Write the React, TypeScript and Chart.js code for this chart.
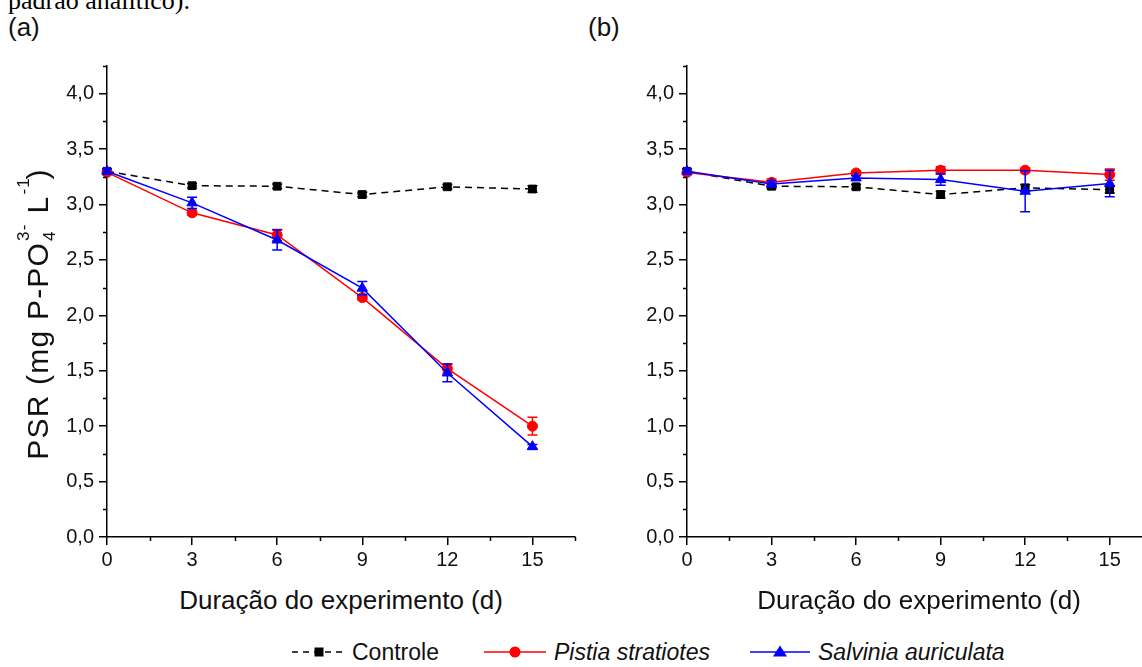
import React, { useEffect, useRef } from 'react';
import { Chart, registerables } from 'chart.js';

Chart.register(...registerables);

// ---- data ----
const days = [0, 3, 6, 9, 12, 15];

const aControle = [3.30, 3.17, 3.165, 3.09, 3.16, 3.14];
const aControleErr = [0.02, 0.02, 0.02, 0.02, 0.02, 0.03];
const aPistia = [3.29, 2.925, 2.725, 2.16, 1.52, 1.00];
const aPistiaErr = [0.02, 0.02, 0.05, 0.02, 0.04, 0.08];
const aSalvinia = [3.30, 3.015, 2.68, 2.245, 1.48, 0.815];
const aSalviniaErr = [0.02, 0.05, 0.09, 0.06, 0.08, 0.02];

const bControle = [3.30, 3.165, 3.16, 3.09, 3.15, 3.135];
const bControleErr = [0.02, 0.02, 0.02, 0.03, 0.03, 0.03];
const bPistia = [3.29, 3.20, 3.285, 3.31, 3.31, 3.27];
const bPistiaErr = [0.02, 0.03, 0.02, 0.03, 0.02, 0.05];
const bSalvinia = [3.30, 3.185, 3.24, 3.225, 3.12, 3.19];
const bSalviniaErr = [0.02, 0.03, 0.02, 0.05, 0.185, 0.12];

const seriesNames = ['Controle', 'Pistia stratiotes', 'Salvinia auriculata'];
const seriesColors = ['#000000', '#ff0000', '#0000ff'];

const xMin = 0;
const xMax = 16.5;
const xMajorStep = 3;
const yMin = 0;
const yMax = 4.25;
const yMajorStep = 0.5;

const FONT = '"Liberation Sans", Arial, Helvetica, sans-serif';

const errorBarPlugin = {
  id: 'errorBars',
  beforeDatasetDraw(chart: any, args: any) {
    const ds = chart.data.datasets[args.index];
    const errs = ds.errors as number[] | undefined;
    if (!errs) return;
    const ys = chart.scales.y;
    const ctx = chart.ctx;
    ctx.save();
    ctx.strokeStyle = ds.borderColor;
    ctx.lineWidth = 1.5;
    ctx.setLineDash([]);
    args.meta.data.forEach((pt: any, i: number) => {
      const v = ds.data[i].y;
      const e = errs[i];
      const x = pt.x;
      const yT = ys.getPixelForValue(v + e);
      const yB = ys.getPixelForValue(v - e);
      ctx.beginPath();
      ctx.moveTo(x, yT);
      ctx.lineTo(x, yB);
      ctx.moveTo(x - 5, yT);
      ctx.lineTo(x + 5, yT);
      ctx.moveTo(x - 5, yB);
      ctx.lineTo(x + 5, yB);
      ctx.stroke();
    });
    ctx.restore();
  },
};

const minorTickPlugin = {
  id: 'minorTicks',
  afterDraw(chart: any) {
    const xs = chart.scales.x;
    const ys = chart.scales.y;
    const ctx = chart.ctx;
    const area = chart.chartArea;
    ctx.save();
    ctx.strokeStyle = '#000';
    ctx.lineWidth = 1.5;
    ctx.beginPath();
    for (let v = xMin + xMajorStep / 2; v <= xMax + 1e-9; v += xMajorStep) {
      const px = Math.round(xs.getPixelForValue(v)) + 0.5;
      ctx.moveTo(px, area.bottom);
      ctx.lineTo(px, area.bottom + 4);
    }
    for (let v = yMin + yMajorStep / 2; v <= yMax + 1e-9; v += yMajorStep) {
      const py = Math.round(ys.getPixelForValue(v)) + 0.5;
      ctx.moveTo(area.left - 4, py);
      ctx.lineTo(area.left, py);
    }
    ctx.stroke();
    ctx.restore();
  },
};

type PanelProps = {
  left: number;
  width: number;
  height: number;
  padRight: number;
  yAxisWidth: number;
  controle: number[];
  controleErr: number[];
  pistia: number[];
  pistiaErr: number[];
  salvinia: number[];
  salviniaErr: number[];
};

function Panel(p: PanelProps) {
  const ref = useRef<HTMLCanvasElement | null>(null);
  useEffect(() => {
    if (!ref.current) return;
    const mk = (vals: number[]) => days.map((d, i) => ({ x: d, y: vals[i] }));
    const chart = new Chart(ref.current, {
      type: 'line',
      data: {
        datasets: [
          {
            label: seriesNames[2],
            data: mk(p.salvinia),
            errors: p.salviniaErr,
            borderColor: seriesColors[2],
            backgroundColor: seriesColors[2],
            borderWidth: 1.5,
            pointStyle: 'triangle',
            pointRadius: 6,
            pointBorderWidth: 1,
            clip: false,
            order: 0,
          } as any,
          {
            label: seriesNames[1],
            data: mk(p.pistia),
            errors: p.pistiaErr,
            borderColor: seriesColors[1],
            backgroundColor: seriesColors[1],
            borderWidth: 1.5,
            pointStyle: 'circle',
            pointRadius: 5,
            pointBorderWidth: 1,
            clip: false,
            order: 1,
          } as any,
          {
            label: seriesNames[0],
            data: mk(p.controle),
            errors: p.controleErr,
            borderColor: seriesColors[0],
            backgroundColor: seriesColors[0],
            borderWidth: 1.5,
            borderDash: [7, 5],
            pointStyle: 'rect',
            pointRadius: 5.5,
            pointBorderWidth: 1,
            clip: false,
            order: 2,
          } as any,
        ],
      },
      options: {
        responsive: false,
        animation: false,
        events: [],
        layout: { padding: { top: 66, right: p.padRight, bottom: 0, left: 0 } },
        plugins: { legend: { display: false }, tooltip: { enabled: false }, title: { display: false } },
        elements: { line: { tension: 0 } },
        scales: {
          x: {
            type: 'linear',
            min: xMin,
            max: xMax,
            afterFit: (s: any) => { s.height = p.height - 537; },
            border: { display: true, color: '#000', width: 1.5 },
            grid: { drawOnChartArea: false, drawTicks: true, tickLength: 8, color: '#000', lineWidth: 1.5 },
            ticks: {
              stepSize: xMajorStep,
              includeBounds: false,
              autoSkip: false,
              maxRotation: 0,
              padding: 3,
              color: '#111',
              font: { family: FONT, size: 20 },
              callback: (v: any) => String(v),
            },
          },
          y: {
            type: 'linear',
            min: yMin,
            max: yMax,
            afterFit: (s: any) => { s.width = p.yAxisWidth; },
            border: { display: true, color: '#000', width: 1.5 },
            grid: { drawOnChartArea: false, drawTicks: true, tickLength: 8, color: '#000', lineWidth: 1.5 },
            ticks: {
              stepSize: yMajorStep,
              includeBounds: false,
              autoSkip: false,
              padding: 5,
              color: '#111',
              font: { family: FONT, size: 20 },
              callback: (v: any) => Number(v).toFixed(1).replace('.', ','),
            },
          },
        },
      } as any,
      plugins: [errorBarPlugin, minorTickPlugin],
    });
    return () => chart.destroy();
  }, []);
  return (
    <canvas
      ref={ref}
      width={p.width}
      height={p.height}
      style={{ position: 'absolute', left: p.left, top: 0, width: p.width, height: p.height }}
    />
  );
}

const textBox = (cx: number, cy: number, w: number, size: number, extra: React.CSSProperties = {}): React.CSSProperties => ({
  position: 'absolute',
  left: cx - w / 2,
  top: cy - 20,
  width: w,
  height: 40,
  lineHeight: '40px',
  textAlign: 'center',
  fontFamily: FONT,
  fontSize: size,
  color: '#111',
  whiteSpace: 'nowrap',
  ...extra,
});

function LegendSymbol({ kind, w }: { kind: number; w: number }) {
  const color = seriesColors[kind];
  const c = w / 2;
  return (
    <svg width={w} height={20} style={{ display: 'block' }}>
      <line x1={0} y1={10} x2={w} y2={10} stroke={color} strokeWidth={1.5} strokeDasharray={kind === 0 ? '6,5' : undefined} />
      {kind === 0 && <rect x={c - 4.5} y={5.5} width={9} height={9} fill={color} />}
      {kind === 1 && <circle cx={c} cy={10} r={5.5} fill={color} />}
      {kind === 2 && <polygon points={`${c},3.5 ${c + 7},14.5 ${c - 7},14.5`} fill={color} />}
    </svg>
  );
}

export default function App() {
  const legendY = 652;
  const legendSymbolsX = [292, 484, 750];
  const legendSymbolsW = [54, 62, 60];
  const legendTextX = [352, 554, 818];
  return (
    <div style={{ position: 'fixed', left: 0, top: 0, width: 1142, height: 667, overflow: 'hidden', background: '#fff' }}>
      <div
        style={{
          position: 'absolute', left: 8, top: -12, fontFamily: '"Liberation Serif", "Times New Roman", serif',
          fontSize: 26, lineHeight: '26px', color: '#000', whiteSpace: 'nowrap',
        }}
      >
        padrão analítico).
      </div>
      <div style={{ position: 'absolute', left: 8, top: 10, fontFamily: FONT, fontSize: 26, lineHeight: '34px', color: '#111' }}>(a)</div>
      <div style={{ position: 'absolute', left: 588, top: 10, fontFamily: FONT, fontSize: 26, lineHeight: '34px', color: '#111' }}>(b)</div>

      <Panel left={0} width={600} height={580} padRight={25} yAxisWidth={107}
        controle={aControle} controleErr={aControleErr}
        pistia={aPistia} pistiaErr={aPistiaErr}
        salvinia={aSalvinia} salviniaErr={aSalviniaErr} />
      <Panel left={580} width={600} height={580} padRight={28} yAxisWidth={107}
        controle={bControle} controleErr={bControleErr}
        pistia={bPistia} pistiaErr={bPistiaErr}
        salvinia={bSalvinia} salviniaErr={bSalviniaErr} />

      <div style={textBox(38, 314, 400, 30, { transform: 'rotate(-90deg)', letterSpacing: 1.2 })}>
        PSR (mg P-PO
        <span style={{ display: 'inline-block', position: 'relative', width: 19, height: 10 }}>
          <span style={{ position: 'absolute', left: 1, top: -23, fontSize: 17, lineHeight: '17px' }}>3-</span>
          <span style={{ position: 'absolute', left: 1, top: 3, fontSize: 17, lineHeight: '17px' }}>4</span>
        </span>
        {' '}L
        <span style={{ display: 'inline-block', position: 'relative', width: 16, height: 10 }}>
          <span style={{ position: 'absolute', left: 1, top: -23, fontSize: 17, lineHeight: '17px' }}>-1</span>
        </span>
        )
      </div>

      <div style={textBox(341, 600, 400, 26)}>Duração do experimento (d)</div>
      <div style={textBox(919, 600, 400, 26)}>Duração do experimento (d)</div>

      {legendSymbolsX.map((x, i) => (
        <div key={'s' + i} style={{ position: 'absolute', left: x, top: legendY - 10 }}>
          <LegendSymbol kind={i} w={legendSymbolsW[i]} />
        </div>
      ))}
      {seriesNames.map((n, i) => (
        <div
          key={'t' + i}
          style={{
            position: 'absolute', left: legendTextX[i], top: legendY - 20, height: 40, lineHeight: '40px',
            fontFamily: FONT, fontSize: 23, color: '#111', whiteSpace: 'nowrap',
            fontStyle: i === 0 ? 'normal' : 'italic',
          }}
        >
          {n}
        </div>
      ))}
    </div>
  );
}
